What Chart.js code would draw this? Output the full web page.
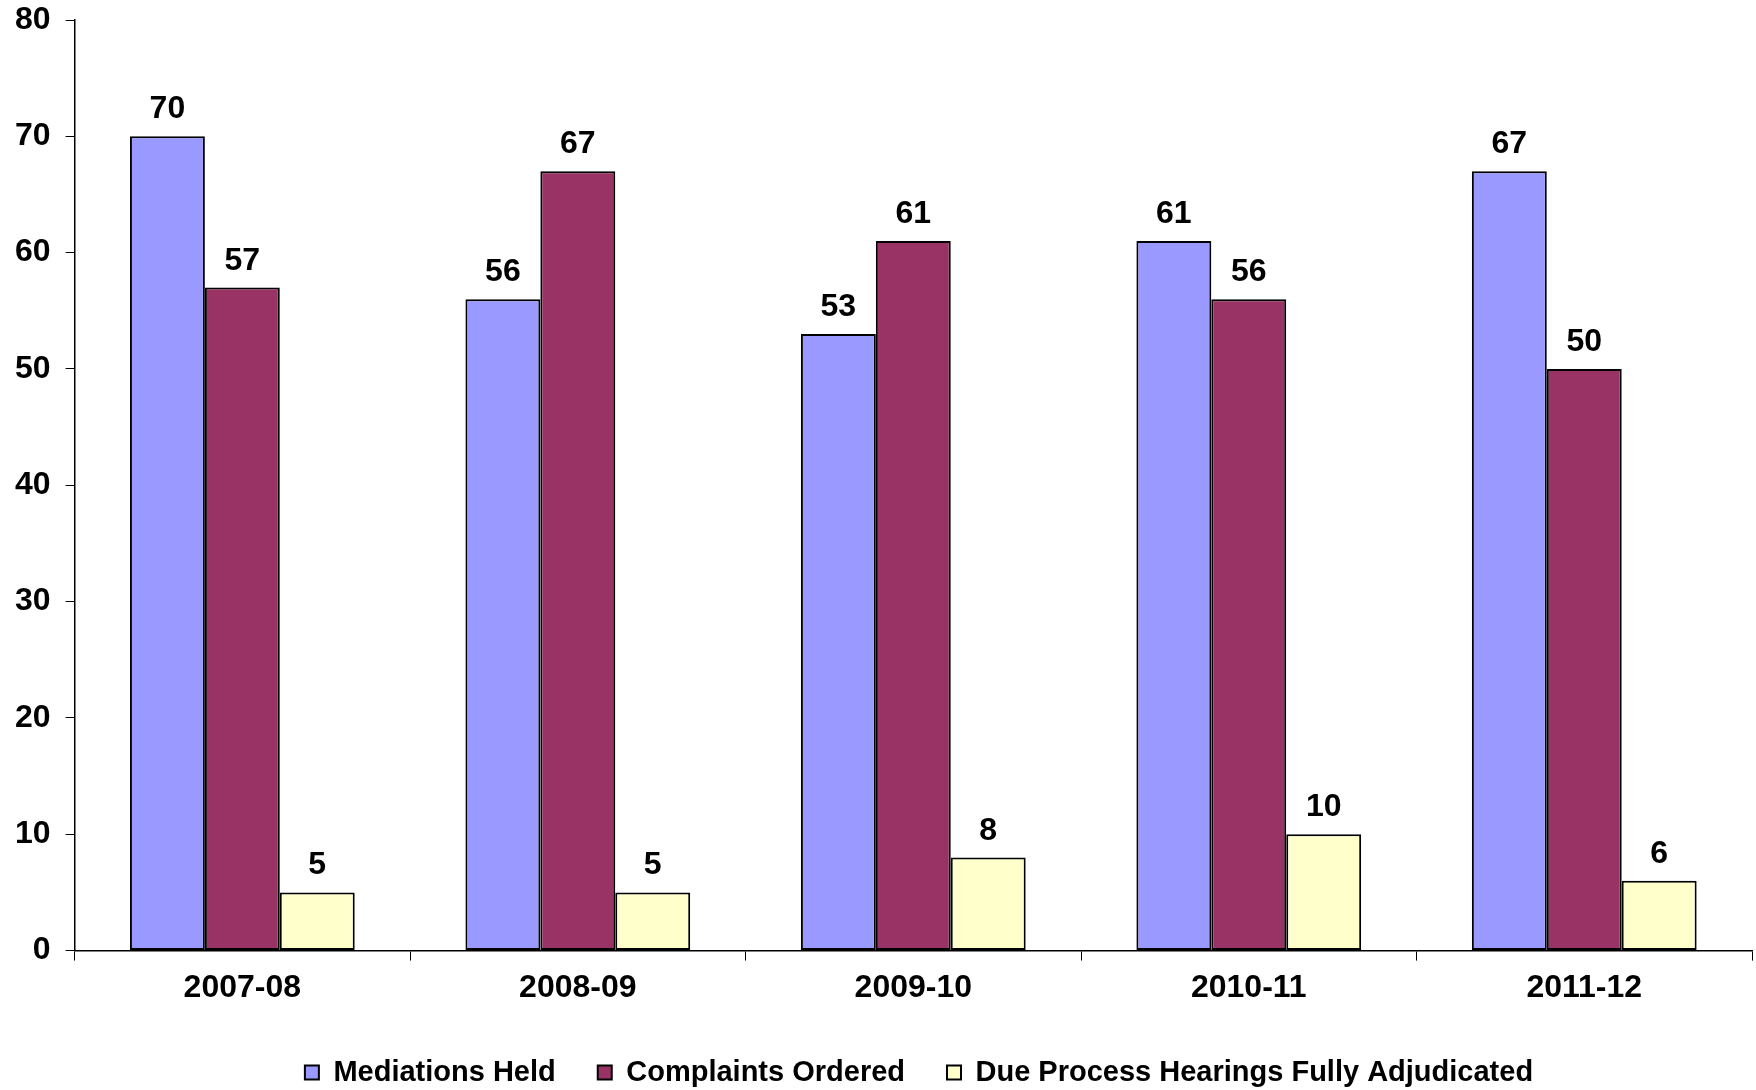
<!DOCTYPE html>
<html>
<head>
<meta charset="utf-8">
<script src="https://cdn.jsdelivr.net/npm/chart.js@4.4.1/dist/chart.umd.min.js"></script>
<style>
  html, body { margin: 0; padding: 0; background: #fff; }
  #chart { display: block; }
</style>
</head>
<body>
<canvas id="chart" width="1756" height="1090"></canvas>
<script>
var years = ['2007-08', '2008-09', '2009-10', '2010-11', '2011-12'];
var mediations = [70, 56, 53, 61, 67];
var complaints = [57, 67, 61, 56, 50];
var hearings = [5, 5, 8, 10, 6];
var yTicks = [0, 10, 20, 30, 40, 50, 60, 70, 80];

var FONT = '"Liberation Sans", Arial, Helvetica, sans-serif';

// draws the value above each bar
var barValues = {
    id: 'barValues',
    afterDatasetsDraw: function (chart) {
        var ctx = chart.ctx;
        ctx.save();
        ctx.font = 'bold 32px ' + FONT;
        ctx.fillStyle = '#000';
        ctx.textAlign = 'center';
        ctx.textBaseline = 'alphabetic';
        chart.data.datasets.forEach(function (ds, i) {
            var meta = chart.getDatasetMeta(i);
            meta.data.forEach(function (bar, j) {
                ctx.fillText(ds.data[j], bar.x, bar.y - 18);
            });
        });
        ctx.restore();
    }
};

// legend in the original sits a bit right of the page centre
var legendShift = {
    id: 'legendShift',
    afterLayout: function (chart) {
        if (chart.legend) {
            chart.legend.left += 43;
            chart.legend.right += 43;
        }
    }
};

function makeSet(label, data, color) {
    return {
        label: label,
        data: data,
        backgroundColor: color,
        borderColor: '#000',
        borderWidth: 2,
        borderSkipped: false,
        categoryPercentage: 0.67,
        barPercentage: 1.0
    };
}

new Chart(document.getElementById('chart'), {
    type: 'bar',
    data: {
        labels: years,
        datasets: [
            makeSet('Mediations Held', mediations, '#9999FF'),
            makeSet('Complaints Ordered', complaints, '#993366'),
            makeSet('Due Process Hearings Fully Adjudicated', hearings, '#FFFFCC')
        ]
    },
    options: {
        responsive: false,
        animation: false,
        layout: { padding: { left: 0, right: 4, top: 20, bottom: -7 } },
        scales: {
            x: {
                offset: true,
                grid: {
                    offset: true,
                    drawOnChartArea: false,
                    drawTicks: true,
                    tickLength: 10,
                    color: '#000'
                },
                border: { display: true, color: '#000', width: 1.5 },
                ticks: {
                    color: '#000',
                    padding: 8,
                    font: { family: FONT, size: 32, weight: 'bold' }
                },
                afterFit: function (axis) { axis.height += 1; }
            },
            y: {
                min: 0,
                max: 80,
                afterBuildTicks: function (axis) {
                    axis.ticks = yTicks.map(function (v) { return { value: v }; });
                },
                afterFit: function (axis) { axis.paddingTop = 0; },
                grid: {
                    drawOnChartArea: false,
                    drawTicks: true,
                    tickLength: 9,
                    color: '#000'
                },
                border: { display: true, color: '#000', width: 1.5 },
                ticks: {
                    color: '#000',
                    padding: 15,
                    font: { family: FONT, size: 32, weight: 'bold' }
                }
            }
        },
        plugins: {
            legend: {
                position: 'bottom',
                labels: {
                    color: '#000',
                    boxWidth: 14,
                    boxHeight: 14,
                    padding: 42,
                    font: { family: FONT, size: 29, weight: 'bold' }
                }
            },
            tooltip: { enabled: false }
        }
    },
    plugins: [barValues, legendShift]
});
</script>
</body>
</html>
